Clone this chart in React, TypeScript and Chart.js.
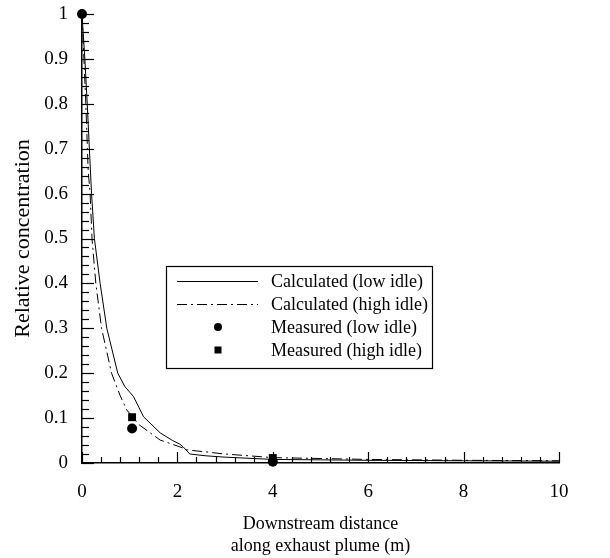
import React, { useEffect, useRef } from "react";
import { Chart, registerables } from "chart.js";

Chart.register(...registerables);

const lowIdleX = [0, 0.03, 0.06, 0.11, 0.2, 0.26, 0.38, 0.52, 0.75, 0.9, 1.08, 1.29, 1.64, 1.9, 2.05, 2.12, 2.26, 2.6, 3, 4, 5, 6, 8, 10];
const lowIdleY = [1, 0.95, 0.9, 0.8, 0.6, 0.5, 0.4, 0.3, 0.2, 0.17, 0.148, 0.103, 0.067, 0.05, 0.042, 0.036, 0.02, 0.016, 0.013, 0.008, 0.007, 0.006, 0.005, 0.004];

const highIdleX = [0, 0.04, 0.08, 0.13, 0.17, 0.21, 0.29, 0.41, 0.62, 0.8, 0.94, 1.2, 1.64, 2.05, 2.22, 3, 4, 6, 8, 10];
const highIdleY = [1, 0.9, 0.8, 0.65, 0.6, 0.5, 0.4, 0.3, 0.2, 0.15, 0.118, 0.085, 0.051, 0.036, 0.029, 0.02, 0.012, 0.008, 0.006, 0.005];

const measLowX = [0, 1.05, 4];
const measLowY = [1, 0.077, 0.003];
const measHighX = [1.05, 4];
const measHighY = [0.102, 0.011];

const legendLabels = [
  "Calculated (low idle)",
  "Calculated (high idle)",
  "Measured (low idle)",
  "Measured (high idle)",
];

const xTitle = ["Downstream distance", "along exhaust plume (m)"];
const yTitle = "Relative concentration";

const FONT = "'Liberation Serif', 'Times New Roman', serif";

const toPts = (xs: number[], ys: number[]) => xs.map((x, i) => ({ x, y: ys[i] }));

const ticksPlugin = {
  id: "inwardTicks",
  afterDraw(chart: any) {
    const ctx = chart.ctx;
    const xs = chart.scales.x;
    const ys = chart.scales.y;
    const { left, bottom } = chart.chartArea;
    ctx.save();
    ctx.strokeStyle = "#000";
    ctx.lineWidth = 1.2;
    for (let i = 0; i <= 50; i++) {
      const v = i * 0.02;
      const py = Math.round(ys.getPixelForValue(v)) + 0.5;
      const len = i % 5 === 0 ? 12 : 7;
      ctx.beginPath();
      ctx.moveTo(left, py);
      ctx.lineTo(left + len, py);
      ctx.stroke();
    }
    for (let i = 0; i <= 25; i++) {
      const v = i * 0.4;
      const px = Math.round(xs.getPixelForValue(v)) + 0.5;
      const len = i % 5 === 0 ? 11 : 6;
      ctx.beginPath();
      ctx.moveTo(px, bottom);
      ctx.lineTo(px, bottom - len);
      ctx.stroke();
    }
    ctx.restore();
  },
};

const legendPlugin = {
  id: "boxLegend",
  afterDraw(chart: any) {
    const ctx = chart.ctx;
    const bx = 166, by = 266, bw = 266, bh = 102;
    ctx.save();
    ctx.fillStyle = "#fff";
    ctx.fillRect(bx, by, bw, bh);
    ctx.strokeStyle = "#000";
    ctx.lineWidth = 1.2;
    ctx.strokeRect(bx + 0.5, by + 0.5, bw, bh);
    const rows = [281, 304, 327, 350];
    const sx0 = 177, sx1 = 258, tx = 271;
    ctx.lineWidth = 1;
    ctx.beginPath();
    ctx.moveTo(sx0, rows[0] + 0.5);
    ctx.lineTo(sx1, rows[0] + 0.5);
    ctx.stroke();
    ctx.setLineDash([10, 4, 2, 4]);
    ctx.beginPath();
    ctx.moveTo(sx0, rows[1] + 0.5);
    ctx.lineTo(sx1, rows[1] + 0.5);
    ctx.stroke();
    ctx.setLineDash([]);
    ctx.fillStyle = "#000";
    ctx.beginPath();
    ctx.arc(218, rows[2], 4, 0, Math.PI * 2);
    ctx.fill();
    ctx.fillRect(214.5, rows[3] - 3.5, 7, 7);
    ctx.font = `18px ${FONT}`;
    ctx.textBaseline = "middle";
    ctx.textAlign = "left";
    legendLabels.forEach((t, i) => ctx.fillText(t, tx, rows[i] + 1));
    ctx.restore();
  },
};

export default function App() {
  const ref = useRef<HTMLCanvasElement | null>(null);
  useEffect(() => {
    document.body.style.margin = "0";
    const canvas = ref.current;
    if (!canvas) return;
    const chart = new Chart(canvas, {
      type: "scatter",
      data: {
        datasets: [
          {
            label: legendLabels[0],
            data: toPts(lowIdleX, lowIdleY),
            showLine: true,
            borderColor: "#000",
            borderWidth: 1,
            pointRadius: 0,
            tension: 0,
            clip: false,
          },
          {
            label: legendLabels[1],
            data: toPts(highIdleX, highIdleY),
            showLine: true,
            borderColor: "#000",
            borderWidth: 1,
            borderDash: [10, 4, 2, 4],
            pointRadius: 0,
            tension: 0,
            clip: false,
          },
          {
            label: legendLabels[2],
            data: toPts(measLowX, measLowY),
            showLine: false,
            pointStyle: "circle",
            pointRadius: 5,
            backgroundColor: "#000",
            borderColor: "#000",
            borderWidth: 0,
            clip: false,
          },
          {
            label: legendLabels[3],
            data: toPts(measHighX, measHighY),
            showLine: false,
            pointStyle: "rect",
            pointRadius: 5.6,
            backgroundColor: "#000",
            borderColor: "#000",
            borderWidth: 0,
            clip: false,
          },
        ],
      },
      options: {
        responsive: false,
        animation: false,
        layout: { padding: { left: 0, right: 51, top: 14, bottom: 0 } },
        plugins: {
          legend: { display: false },
          tooltip: { enabled: false },
        },
        scales: {
          x: {
            type: "linear",
            min: 0,
            max: 10,
            grid: { display: false, drawTicks: false },
            border: { display: true, color: "#000", width: 1.5 },
            ticks: {
              stepSize: 2,
              color: "#000",
              font: { family: FONT, size: 19 },
              padding: 18,
              maxRotation: 0,
              callback: (v: any) => String(v),
            },
            title: {
              display: true,
              text: xTitle,
              color: "#000",
              font: { family: FONT, size: 18 },
              padding: { top: 8, bottom: 1 },
            },
            afterFit: (s: any) => {
              s.height = 95;
              s.paddingLeft = 0;
              s.paddingRight = 0;
            },
          },
          y: {
            type: "linear",
            min: 0,
            max: 1,
            grid: { display: false, drawTicks: false },
            border: { display: true, color: "#000", width: 1.5 },
            ticks: {
              stepSize: 0.1,
              color: "#000",
              font: { family: FONT, size: 19 },
              padding: 14,
              callback: (v: any) => String(+Number(v).toFixed(1)),
            },
            title: {
              display: true,
              text: yTitle,
              color: "#000",
              font: { family: FONT, size: 22 },
              padding: { top: 10, bottom: 6 },
            },
            afterFit: (s: any) => {
              s.width = 82;
              s.paddingTop = 0;
              s.paddingBottom = 0;
            },
          },
        },
      },
      plugins: [ticksPlugin, legendPlugin],
    });
    return () => chart.destroy();
  }, []);
  return (
    <div style={{ width: 610, height: 558, background: "#fff" }}>
      <canvas ref={ref} width={610} height={558} style={{ display: "block" }} />
    </div>
  );
}
